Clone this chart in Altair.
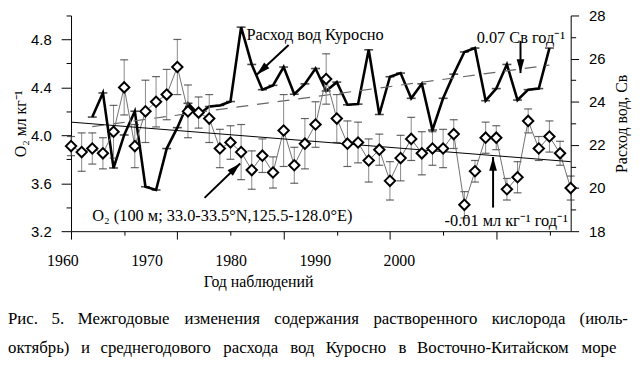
import math
import altair as alt
import pandas as pd

# ---------------- data ----------------
years = list(range(1960, 2008))
o2 = [3.91, 3.86, 3.89, 3.85, 4.03, 4.40, 3.91, 4.20, 4.28, 4.34,
      4.57, 4.20, 4.19, 4.14, 3.89, 3.94, 3.86, 3.71, 3.83, 3.69,
      4.04, 3.75, 3.93, 4.09, 4.47, 4.14, 3.93, 3.94, 3.79, 3.88,
      3.62, 3.81, 3.97, 3.85, 3.89, 3.89, 4.01, 3.42, 3.70, 3.98,
      3.98, 3.55, 3.65, 4.12, 3.89, 3.99, 3.85, 3.56]
o2_err = [0.08, 0.16, 0.13, 0.13, 0.22, 0.23, 0.18, 0.26, 0.21, 0.21,
          0.23, 0.22, 0.13, 0.20, 0.16, 0.14, 0.23, 0.16, 0.14, 0.13,
          0.30, 0.15, 0.21, 0.19, 0.21, 0.20, 0.19, 0.17, 0.18, 0.13,
          0.16, 0.19, 0.18, 0.18, 0.14, 0.16, 0.12, 0.11, 0.09, 0.13,
          0.10, 0.09, 0.13, 0.10, 0.10, 0.13, 0.10, 0.10]
kuro_years = list(range(1962, 2006))
kuro = [23.29, 24.41, 20.93, 22.46, 23.56, 20.06, 19.91, 21.83,
        22.80, 23.93, 23.41, 23.78, 23.83, 24.01, 27.46, 25.73, 24.56, 24.76,
        25.61, 24.35, 24.83, 25.54, 24.50, 24.91, 23.86, 23.89, 26.41, 23.41,
        25.16, 25.33, 24.16, 24.83, 22.69, 24.16, 25.28, 26.31, 26.49, 24.05,
        24.61, 25.73, 24.08, 24.56, 24.61, 26.49]
o2_trend_years = [1960, 2007]
o2_trend = [4.11, 3.78]
kuro_trend_years = [1962, 2005]
kuro_trend = [22.85, 25.70]

x_major = [1960, 1970, 1980, 1990, 2000]
x_minor = [1965, 1975, 1985, 1995, 2005]
year_labels = [1960, 1970, 1980, 1990, 2000]
o2_major = [3.2, 3.6, 4.0, 4.4, 4.8]
o2_minor = [3.4, 3.8, 4.2, 4.6, 5.0]
ku_major = [18, 20, 22, 24, 26, 28]
ku_minor = [19, 21, 23, 25, 27]

# annotations (data coordinates)
ku_text = ["Расход вод Куросно", "0.07 Св год⁻¹"]
ku_text_x = [1976.5, 1998.16]
ku_text_y = [27.08, 26.97]
ku_arrow_tail_x = [1980.47, 2002.28]
ku_arrow_tail_y = [26.63, 26.82]
ku_arrow_head_x = [1977.46, 2002.28]
ku_arrow_head_y = [25.25, 25.33]

o2_text = ["O₂ (100 м; 33.0-33.5°N,125.5-128.0°E)", "-0.01 мл кг⁻¹ год⁻¹"]
o2_text_x = [1962.0, 1995.14]
o2_text_y = [3.327, 3.281]
o2_arrow_tail_x = [1972.56, 1999.70]
o2_arrow_tail_y = [3.478, 3.397]
o2_arrow_head_x = [1975.91, 1999.70]
o2_arrow_head_y = [3.765, 3.819]

caption_lines = [
    "Рис. 5. Межгодовые изменения содержания растворенного кислорода (июль-",
    "октябрь)  и среднегодового расхода вод Куросно в Восточно-Китайском море",
]

# ---------------- layout / style ----------------
W, H = 505, 218
X_DOM = [1960, 2007]
O2_DOM = [3.2, 5.0]
KU_DOM = [18, 28]
LAB_END = 1960 + W / 8.5
SERIF = "Liberation Serif"
SANS = "Liberation Sans"
PAD_L, PAD_T, PAD_R, PAD_B = 63.7, 5.7, 64, 125.3

PX_YEAR = W / (X_DOM[1] - X_DOM[0])
PX_O2 = H / (O2_DOM[1] - O2_DOM[0])
PX_KU = H / (KU_DOM[1] - KU_DOM[0])
HEAD = 14
HEAD_SHAPE = "M0,-1L0.55,1L-0.55,1Z"

xs = alt.Scale(domain=X_DOM, nice=False, zero=False)
o2s = alt.Scale(domain=O2_DOM, nice=False, zero=False)
kus = alt.Scale(domain=KU_DOM, nice=False, zero=False)

common = dict(grid=False, domainColor="black", tickColor="black", labelColor="black", tickWidth=1)

x_axis_major = alt.Axis(orient="bottom", values=x_major, labels=False, title=None, tickSize=8,
                        domainWidth=1, **common)
x_axis_minor = alt.Axis(orient="bottom", values=x_minor, labels=False, title=None, tickSize=4,
                        domain=False, **common)

o2_axis_major = alt.Axis(orient="left", values=o2_major, format=".1f",
                         labelFont=SANS, labelFontSize=15, labelPadding=10, tickSize=10,
                         title="O₂ мл кг⁻¹", titleFont=SERIF, titleFontSize=16,
                         titleFontWeight="normal", titleColor="black", titlePadding=2, **common)
o2_axis_minor = alt.Axis(orient="left", values=o2_minor, labels=False, title=None, tickSize=5,
                         domain=False, **common)

ku_axis_major = alt.Axis(orient="right", values=ku_major, format="d",
                         labelFont=SANS, labelFontSize=15, labelPadding=10, tickSize=8,
                         title="Расход вод, Св", titleFont=SERIF, titleFontSize=16, titleAngle=270,
                         titleBaseline="top", titleFontWeight="normal", titleColor="black",
                         titlePadding=9, **common)
ku_axis_minor = alt.Axis(orient="right", values=ku_minor, labels=False, title=None, tickSize=5,
                         domain=False, **common)


def arrow_df(tx, ty, hx, hy, ppy):
    rows = []
    for x0, y0, x1, y1 in zip(tx, ty, hx, hy):
        dxp = (x1 - x0) * PX_YEAR
        dyp = -(y1 - y0) * ppy
        ang = math.degrees(math.atan2(dxp, -dyp)) % 360
        n = math.hypot(dxp, dyp)
        ux, uy = dxp / n, dyp / n
        cx = x1 - ux * HEAD / 2 / PX_YEAR
        cy = y1 + uy * HEAD / 2 / ppy
        rows.append({"x0": x0, "y0": y0, "x1": x1, "y1": y1, "cx": cx, "cy": cy, "ang": ang})
    return pd.DataFrame(rows)


# ---------------- Kuroshio group (right axis) ----------------
ku_df = pd.DataFrame({"year": kuro_years, "v": kuro})
ku_tr_df = pd.DataFrame({"year": kuro_trend_years, "v": kuro_trend})
ku_txt_df = pd.DataFrame({"x": ku_text_x, "y": ku_text_y, "t": ku_text})
ku_arr_df = arrow_df(ku_arrow_tail_x, ku_arrow_tail_y, ku_arrow_head_x, ku_arrow_head_y, PX_KU)

ku_line = alt.Chart(ku_df).mark_line(color="black", strokeWidth=2.6).encode(
    x=alt.X("year:Q", scale=xs, axis=x_axis_major),
    y=alt.Y("v:Q", scale=kus, axis=ku_axis_major))
ku_trend_l = alt.Chart(ku_tr_df).mark_line(color="#666666", strokeWidth=1.2, strokeDash=[12, 9]).encode(
    x=alt.X("year:Q", scale=xs, axis=x_axis_minor),
    y=alt.Y("v:Q", scale=kus, axis=ku_axis_minor))
ku_marks = alt.Chart(ku_df).mark_tick(orient="horizontal", size=9, thickness=1.6, color="black").encode(
    x=alt.X("year:Q", scale=xs, axis=None), y=alt.Y("v:Q", scale=kus, axis=None))
ku_txt = alt.Chart(ku_txt_df).mark_text(align="left", baseline="middle", font=SERIF, fontSize=16.5,
                                        color="black").encode(
    x=alt.X("x:Q", scale=xs, axis=None), y=alt.Y("y:Q", scale=kus, axis=None), text="t:N")
ku_arr = alt.Chart(ku_arr_df).mark_rule(color="black", strokeWidth=2).encode(
    x=alt.X("x0:Q", scale=xs, axis=None), y=alt.Y("y0:Q", scale=kus, axis=None), x2="x1:Q", y2="y1:Q")
ku_head = alt.Chart(ku_arr_df).mark_point(shape=HEAD_SHAPE, filled=True, color="black", opacity=1,
                                          size=HEAD * HEAD).encode(
    x=alt.X("cx:Q", scale=xs, axis=None), y=alt.Y("cy:Q", scale=kus, axis=None),
    angle=alt.Angle("ang:Q", scale=None))

ku_group = alt.layer(ku_line, ku_trend_l, ku_marks, ku_txt, ku_arr, ku_head).resolve_axis(
    x="independent", y="independent")

# ---------------- O2 group (left axis) ----------------
o2_df = pd.DataFrame({"year": years, "v": o2, "err": o2_err})
o2_df["lo"] = o2_df["v"] - o2_df["err"]
o2_df["hi"] = o2_df["v"] + o2_df["err"]
o2_tr_df = pd.DataFrame({"year": o2_trend_years, "v": o2_trend})
o2_txt_df = pd.DataFrame({"x": o2_text_x, "y": o2_text_y, "t": o2_text})
o2_arr_df = arrow_df(o2_arrow_tail_x, o2_arrow_tail_y, o2_arrow_head_x, o2_arrow_head_y, PX_O2)

o2_bars = alt.Chart(o2_df).mark_rule(color="#8a8a8a", strokeWidth=1).encode(
    x=alt.X("year:Q", scale=xs, axis=None),
    y=alt.Y("lo:Q", scale=o2s, axis=o2_axis_major), y2="hi:Q")
o2_cap_hi = alt.Chart(o2_df).mark_tick(orient="horizontal", size=8, thickness=1.2, color="#222222").encode(
    x=alt.X("year:Q", scale=xs, axis=None), y=alt.Y("hi:Q", scale=o2s, axis=None))
o2_cap_lo = alt.Chart(o2_df).mark_tick(orient="horizontal", size=8, thickness=1.2, color="#222222").encode(
    x=alt.X("year:Q", scale=xs, axis=None), y=alt.Y("lo:Q", scale=o2s, axis=None))
o2_line = alt.Chart(o2_df).mark_line(color="#707070", strokeWidth=1).encode(
    x=alt.X("year:Q", scale=xs, axis=None), y=alt.Y("v:Q", scale=o2s, axis=o2_axis_minor))
o2_trend_l = alt.Chart(o2_tr_df).mark_line(color="black", strokeWidth=1).encode(
    x=alt.X("year:Q", scale=xs, axis=None), y=alt.Y("v:Q", scale=o2s, axis=None))
o2_pts = alt.Chart(o2_df).mark_point(shape="diamond", filled=True, fill="white", stroke="black",
                                     strokeWidth=2, size=110, opacity=1).encode(
    x=alt.X("year:Q", scale=xs, axis=None), y=alt.Y("v:Q", scale=o2s, axis=None))
o2_txt = alt.Chart(o2_txt_df).mark_text(align="left", baseline="middle", font=SERIF, fontSize=16.5,
                                        color="black").encode(
    x=alt.X("x:Q", scale=xs, axis=None), y=alt.Y("y:Q", scale=o2s, axis=None), text="t:N")
o2_arr = alt.Chart(o2_arr_df).mark_rule(color="black", strokeWidth=2).encode(
    x=alt.X("x0:Q", scale=xs, axis=None), y=alt.Y("y0:Q", scale=o2s, axis=None), x2="x1:Q", y2="y1:Q")
o2_head = alt.Chart(o2_arr_df).mark_point(shape=HEAD_SHAPE, filled=True, color="black", opacity=1,
                                          size=HEAD * HEAD).encode(
    x=alt.X("cx:Q", scale=xs, axis=None), y=alt.Y("cy:Q", scale=o2s, axis=None),
    angle=alt.Angle("ang:Q", scale=None))

o2_group = alt.layer(o2_bars, o2_cap_hi, o2_cap_lo, o2_line, o2_trend_l, o2_pts, o2_txt,
                     o2_arr, o2_head).resolve_axis(y="independent")

main = alt.layer(ku_group, o2_group).resolve_scale(y="independent")

# ---------------- year labels (as printed) ----------------
lab_df = pd.DataFrame({"yr": year_labels})
label_layer = alt.Chart(lab_df).mark_point(opacity=0).encode(
    x=alt.X("yr:Q", scale=alt.Scale(domain=[1960, LAB_END], nice=False, zero=False),
            axis=alt.Axis(orient="bottom", values=year_labels, format="d", ticks=False, tickSize=0,
                          domain=False, grid=False, labelOffset=-8.7, labelPadding=22, labelFlush=False,
                          labelFont=SERIF, labelFontSize=16, labelColor="black",
                          title="Год наблюдений", titleFont=SERIF, titleFontSize=16,
                          titleFontWeight="normal", titleColor="black", titleX=189, titleY=51,
                          titleBaseline="middle", titleAlign="center")))

# ---------------- caption (justified lines) ----------------
CW = {'а': .444, 'б': .509, 'в': .472, 'г': .410, 'д': .509, 'е': .444, 'ж': .691, 'з': .395,
      'и': .535, 'й': .535, 'к': .486, 'л': .499, 'м': .633, 'н': .535, 'о': .5, 'п': .535,
      'р': .5, 'с': .444, 'т': .437, 'у': .5, 'ф': .648, 'х': .5, 'ц': .535, 'ч': .503,
      'ш': .770, 'щ': .770, 'ъ': .517, 'ы': .672, 'ь': .456, 'э': .429, 'ю': .747, 'я': .484,
      'Р': .556, 'М': .889, 'К': .722, 'В': .667, 'Г': .604, '.': .25, '(': .333, ')': .333,
      '-': .333}
CAP_FS = 17
line_left = -PAD_L
line_right = [563.3, 551.3]
line_y = [307.3, 336.3]
rows = []
for li, line in enumerate(caption_lines):
    words = line.split()
    widths = [sum(CW.get(c, 0.5) for c in w) * CAP_FS for w in words]
    gap = (line_right[li] - line_left - sum(widths)) / (len(words) - 1)
    xpos = line_left
    for w, wd in zip(words, widths):
        rows.append({"w": w, "px": xpos, "py": line_y[li]})
        xpos += wd + gap
cap_df = pd.DataFrame(rows)
caption = alt.Chart(cap_df).mark_text(align="left", baseline="middle", font=SERIF, fontSize=CAP_FS,
                                      color="black").encode(
    x=alt.X("px:Q", scale=None, axis=None), y=alt.Y("py:Q", scale=None, axis=None), text="w:N")

chart = alt.layer(main, label_layer, caption).resolve_scale(x="independent").properties(
    width=W, height=H, background="white",
    autosize=alt.AutoSizeParams(type="none"),
    padding={"left": PAD_L, "top": PAD_T, "right": PAD_R, "bottom": PAD_B},
).configure_view(stroke=None)

chart.save("out.html", embed_options={"renderer": "svg", "actions": False})
